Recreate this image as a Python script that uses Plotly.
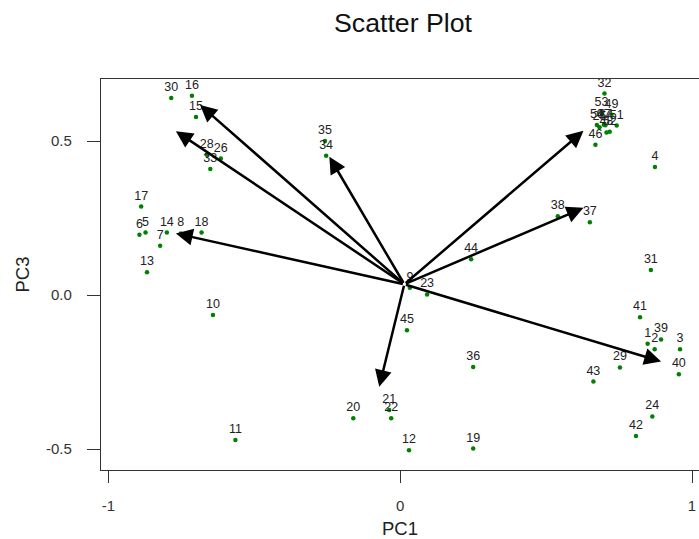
import plotly.graph_objects as go

# ---- data ----
point_labels = [str(i) for i in range(1, 54)]
pc1 = [0.848, 0.872, 0.959, 0.873, -0.873, -0.894, -0.823, -0.752, 0.033, -0.642,
       -0.565, 0.030, -0.868, -0.800, -0.700, -0.714, -0.888, -0.681, 0.250, -0.161,
       -0.038, -0.031, 0.092, 0.864, 0.683, -0.615, 0.703, -0.663, 0.753, -0.785,
       0.859, 0.700, -0.651, -0.254, -0.258, 0.250, 0.650, 0.540, 0.894, 0.955,
       0.822, 0.808, 0.662, 0.243, 0.023, 0.669, 0.698, 0.707, 0.724, 0.674,
       0.742, 0.718, 0.690]
pc3 = [-0.158, -0.176, -0.176, 0.416, 0.203, 0.196, 0.160, 0.200, 0.024, -0.065,
       -0.471, -0.504, 0.074, 0.203, 0.578, 0.647, 0.287, 0.203, -0.498, -0.400,
       -0.373, -0.400, 0.002, -0.394, 0.545, 0.443, 0.551, 0.455, -0.235, 0.640,
       0.081, 0.654, 0.409, 0.452, 0.500, -0.234, 0.236, 0.256, -0.144, -0.257,
       -0.072, -0.458, -0.281, 0.116, -0.114, 0.488, 0.553, 0.528, 0.585, 0.552,
       0.550, 0.530, 0.590]

arrow_origin = (0.014, 0.035)
arrow_x = [-0.686, -0.769, -0.769, -0.243, 0.628, 0.628, 0.894, -0.072]
arrow_y = [0.617, 0.532, 0.200, 0.449, 0.533, 0.283, -0.216, -0.298]

x_ticks = [-1, 0, 1]
x_ticktext = ["-1", "0", "1"]
y_ticks = [-0.5, 0.0, 0.5]
y_ticktext = ["-0.5", "0.0", "0.5"]

FONT = "Liberation Sans, Arial, sans-serif"

fig = go.Figure()
fig.add_trace(go.Scatter(
    x=pc1, y=pc3, mode="markers+text", text=point_labels,
    textposition="top center",
    textfont=dict(family=FONT, size=12.5, color="#222222"),
    marker=dict(color="#008000", size=4.5, line=dict(width=0)),
    hoverinfo="text", showlegend=False, cliponaxis=False,
))

for ax_, ay_ in zip(arrow_x, arrow_y):
    fig.add_annotation(
        x=ax_, y=ay_, ax=arrow_origin[0], ay=arrow_origin[1],
        xref="x", yref="y", axref="x", ayref="y",
        text="", showarrow=True, arrowhead=2, arrowsize=1.35,
        arrowwidth=2.5, arrowcolor="black", standoff=0,
    )

# plot area in pixels: left 101, right 699, top 79, bottom 470
fig.add_annotation(text="PC1", x=0.5, xref="paper", y=(470 - 528) / 391, yref="paper",
                   yanchor="middle", xanchor="center", showarrow=False,
                   font=dict(family=FONT, size=18.5, color="#222222"))
fig.add_annotation(text="PC3", x=(22 - 101) / 598, xref="paper", xanchor="center",
                   y=0.5, yref="paper", yanchor="middle", showarrow=False, textangle=-90,
                   font=dict(family=FONT, size=18.5, color="#222222"))

fig.update_layout(
    width=699, height=539,
    margin=dict(l=101, r=0, t=79, b=69, autoexpand=False),
    paper_bgcolor="white", plot_bgcolor="white",
    title=dict(text="Scatter Plot", x=(403 - 101) / 598, xref="paper", y=1 - 13.5 / 539,
               yref="container", yanchor="top", xanchor="center",
               font=dict(family=FONT, size=26.7, color="#111111")),
    xaxis=dict(range=[-1.0257, 1.024], tickvals=x_ticks, ticktext=x_ticktext,
               automargin=False,
               showgrid=False, zeroline=False, showline=True, linecolor="#333333",
               linewidth=1.3, mirror=True, ticks="outside", ticklen=12,
               tickcolor="#333333", tickwidth=1, ticklabelstandoff=10,
               tickfont=dict(family=FONT, size=15, color="#333333")),
    yaxis=dict(range=[-0.568, 0.7013], tickvals=y_ticks, ticktext=y_ticktext,
               automargin=False,
               showgrid=False, zeroline=False, showline=True, linecolor="#333333",
               linewidth=1.3, mirror=False, ticks="outside", ticklen=13,
               tickcolor="#333333", tickwidth=1, ticklabelstandoff=12,
               tickfont=dict(family=FONT, size=15, color="#333333")),
)

fig.write_html("out.html", config={"displayModeBar": False},
               post_script="document.body.style.margin='0';document.body.style.overflow='hidden';")
